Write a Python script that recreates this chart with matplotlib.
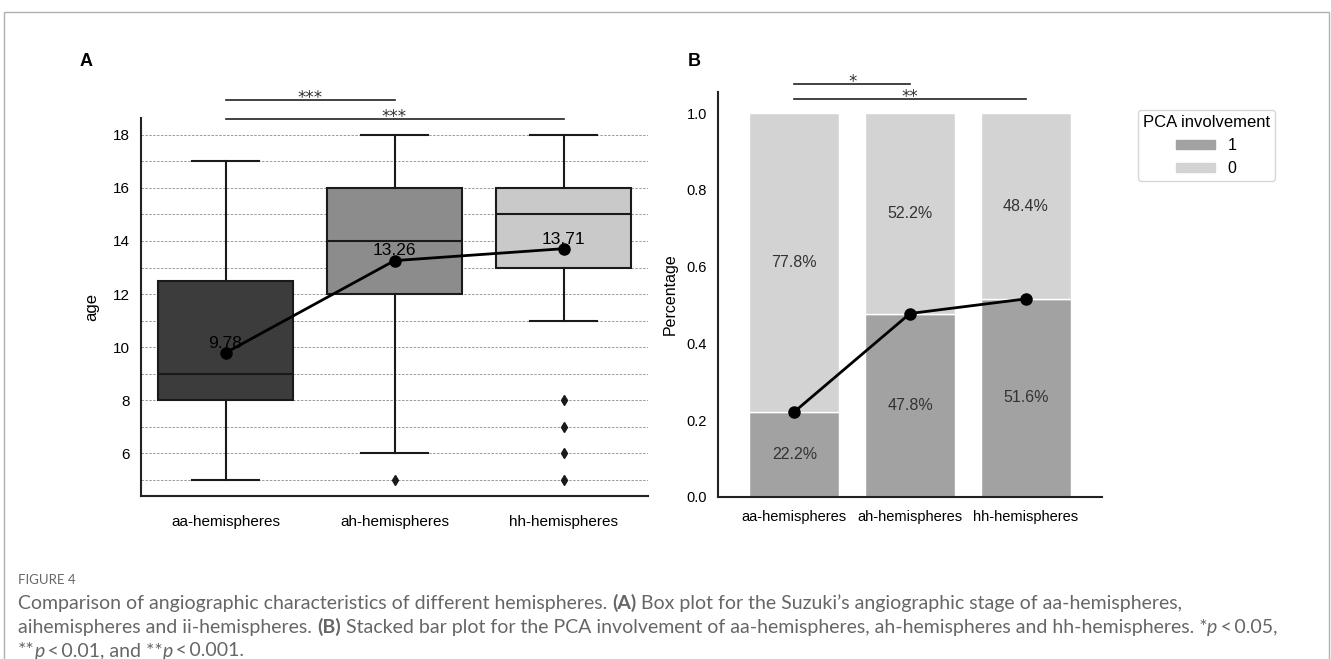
import matplotlib
matplotlib.use("Agg")
import matplotlib.pyplot as plt
import matplotlib.transforms as mtransforms
from matplotlib.patches import Patch, Rectangle
from matplotlib.ticker import MultipleLocator

plt.rcParams["font.family"] = ["Liberation Sans", "DejaVu Sans"]

# ----- data -----
groups = ["aa-hemispheres", "ah-hemispheres", "hh-hemispheres"]

age_whislo = [5, 6, 11]
age_q1 = [8, 12, 13]
age_med = [9, 14, 15]
age_q3 = [12.5, 16, 16]
age_whishi = [17, 18, 18]
age_fliers = [[], [5], [5, 6, 7, 8]]
age_mean = [9.78, 13.26, 13.71]
box_colors = ["#3c3c3c", "#8c8c8c", "#c9c9c9"]

pca_1 = [0.222, 0.478, 0.516]
pca_0 = [0.778, 0.522, 0.484]

sig_a = [(0, 1, "***"), (0, 2, "***")]
sig_b = [(0, 1, "*"), (0, 2, "**")]

W, H = 1331, 659
fig = plt.figure(figsize=(W / 100, H / 100), dpi=100)


def fbox(l, t, r, b):
    return [l / W, 1 - b / H, (r - l) / W, (b - t) / H]


def sig_bars(axis, pairs, levels):
    # comparison bar + stars, y in axes fraction
    tr = mtransforms.blended_transform_factory(axis.transData, axis.transAxes)
    tr_txt = mtransforms.offset_copy(tr, fig=fig, y=-3, units="dots")
    for (x0, x1, lab), yy in zip(pairs, levels):
        axis.plot([x0, x1], [yy, yy], color="#222222", lw=1.2, transform=tr,
                  clip_on=False)
        axis.text((x0 + x1) / 2, yy, lab, ha="center", va="baseline",
                  fontsize=12, family="DejaVu Sans", color="#333333",
                  transform=tr_txt)


# ---- (A) box plot ----
ax = fig.add_axes(fbox(141, 118, 648, 496))
stats = []
for i in range(len(groups)):
    stats.append({"whislo": age_whislo[i], "q1": age_q1[i], "med": age_med[i],
                  "q3": age_q3[i], "whishi": age_whishi[i],
                  "fliers": age_fliers[i], "label": groups[i]})
bp = ax.bxp(stats, positions=range(len(groups)), widths=0.8, capwidths=0.4,
            patch_artist=True, showfliers=True,
            boxprops=dict(edgecolor="#1a1a1a", linewidth=1.5),
            medianprops=dict(color="#1a1a1a", linewidth=1.5),
            whiskerprops=dict(color="#1a1a1a", linewidth=1.5),
            capprops=dict(color="#1a1a1a", linewidth=1.5),
            flierprops=dict(marker="d", markerfacecolor="#1a1a1a",
                            markeredgecolor="#1a1a1a", markersize=5))
for patch, c in zip(bp["boxes"], box_colors):
    patch.set_facecolor(c)
for art in bp["boxes"] + bp["medians"] + bp["whiskers"] + bp["caps"] + bp["fliers"]:
    art.set_zorder(3)

ax.plot(range(len(groups)), age_mean, "o-", color="black", lw=2, ms=8, zorder=5)
for i, m in enumerate(age_mean):
    ax.text(i, m + 0.08, f"{m:.2f}", ha="center", va="bottom", fontsize=12.5,
            color="black", zorder=6)

ax.set_xlim(-0.5, 2.5)
ax.set_ylim(4.38, 18.64)
ax.yaxis.set_major_locator(MultipleLocator(2))
ax.yaxis.set_minor_locator(MultipleLocator(1))
ax.grid(axis="y", which="both", color="#9a9a9a", ls=(0, (2.5, 1.5)), lw=0.7, zorder=0)
ax.set_axisbelow(True)
ax.tick_params(axis="both", which="both", length=0, labelsize=11, pad=8)
ax.tick_params(axis="x", pad=14)
ax.set_xticks(range(len(groups)))
ax.set_xticklabels(groups)
ax.set_ylabel("age", fontsize=12, labelpad=10)
for s in ["top", "right"]:
    ax.spines[s].set_visible(False)
for s in ["left", "bottom"]:
    ax.spines[s].set_linewidth(1.5)
    ax.spines[s].set_color("#222222")

sig_bars(ax, sig_a, [1.048, 0.997])
fig.text(80 / W, 1 - 62 / H, "A", fontsize=13, fontweight="bold", va="center")

# ---- (B) stacked bars ----
bx = fig.add_axes(fbox(718, 92, 1102, 497))
xs = range(len(groups))
bx.bar(xs, pca_1, width=0.78, color="#a2a2a2", edgecolor="white", lw=1, label="1")
bx.bar(xs, pca_0, width=0.78, bottom=pca_1, color="#d3d3d3", edgecolor="white",
       lw=1, label="0")
for i in xs:
    bx.text(i, pca_1[i] / 2, f"{pca_1[i] * 100:.1f}%", ha="center", va="center",
            fontsize=11.5, color="#333333")
    bx.text(i, pca_1[i] + pca_0[i] / 2, f"{pca_0[i] * 100:.1f}%", ha="center",
            va="center", fontsize=11.5, color="#333333")
bx.plot(xs, pca_1, "o-", color="black", lw=2, ms=8, zorder=5)
bx.set_xlim(-0.66, 2.66)
bx.set_ylim(0, 1.055)
bx.set_yticks([0, 0.2, 0.4, 0.6, 0.8, 1.0])
bx.set_xticks(list(xs))
bx.set_xticklabels(groups)
bx.tick_params(axis="both", length=0, labelsize=10.5, pad=8)
bx.tick_params(axis="x", pad=9)
bx.set_ylabel("Percentage", fontsize=11.5, labelpad=6)
for s in ["top", "right"]:
    bx.spines[s].set_visible(False)
for s in ["left", "bottom"]:
    bx.spines[s].set_linewidth(1.5)
    bx.spines[s].set_color("#222222")

sig_bars(bx, sig_b, [1.02, 0.983])
fig.text(688 / W, 1 - 62 / H, "B", fontsize=13, fontweight="bold", va="center")

handles = [Patch(color="#a2a2a2", label="1"), Patch(color="#d3d3d3", label="0")]
fig.legend(handles=handles, title="PCA involvement", loc="upper left",
           bbox_to_anchor=(1130 / W, 1 - 102 / H), fontsize=11.5,
           title_fontsize=12, frameon=True, edgecolor="#cccccc",
           handlelength=2.4, handleheight=0.5, borderpad=0.3)

# ---- frame + caption ----
fig.patches.append(Rectangle((4 / W, -0.05), 1 - 6 / W, 1 - 12 / H + 0.05,
                             transform=fig.transFigure, fill=False,
                             edgecolor="#b0b0b0", lw=1))

cap_font = ["Lato", "DejaVu Sans"]
fig.text(18 / W, 1 - 580 / H, "FIGURE 4", fontsize=9.5, color="#666666",
         family=cap_font, va="center")

lines = [
    [("Comparison of angiographic characteristics of different hemispheres. ", "normal", "normal"),
     ("(A)", "bold", "normal"),
     (" Box plot for the Suzuki\u2019s angiographic stage of aa-hemispheres,", "normal", "normal")],
    [("aihemispheres and ii-hemispheres. ", "normal", "normal"),
     ("(B)", "bold", "normal"),
     (" Stacked bar plot for the PCA involvement of aa-hemispheres, ah-hemispheres and hh-hemispheres. *", "normal", "normal"),
     ("p", "normal", "italic"),
     ("\u2009<\u20090.05,", "normal", "normal")],
    [("**", "normal", "normal"), ("p", "normal", "italic"),
     ("\u2009<\u20090.01, and **", "normal", "normal"), ("p", "normal", "italic"),
     ("\u2009<\u20090.001.", "normal", "normal")],
]
renderer = fig.canvas.get_renderer()
for k, parts in enumerate(lines):
    x = 18
    y = H - (603 + 24 * k)
    for s, wt, st in parts:
        t = fig.text(x, y, s, fontsize=14, color="#666666", family=cap_font,
                     fontweight=wt, fontstyle=st, va="center",
                     transform=mtransforms.IdentityTransform())
        x += t.get_window_extent(renderer).width

fig.savefig("out.png", dpi=100)
